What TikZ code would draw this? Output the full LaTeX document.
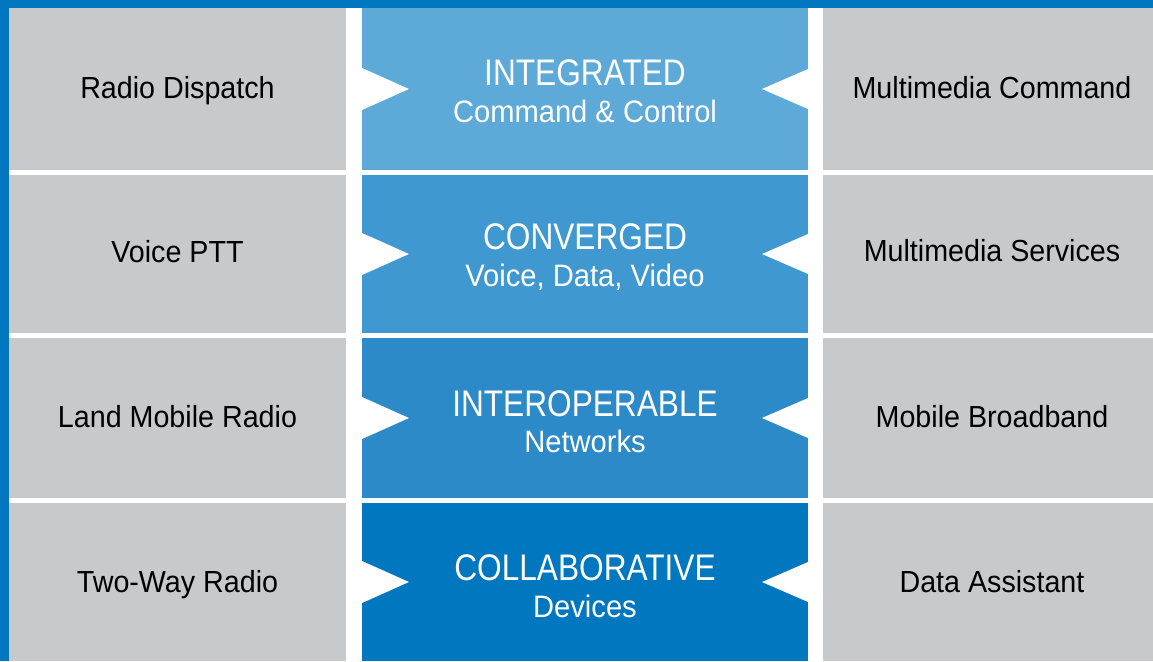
\documentclass[tikz,border=0pt]{standalone}
\usepackage{fontspec}
\setmainfont[FakeStretch=0.94]{Liberation Sans}
\newfontfamily\titlefont[FakeStretch=0.855]{Liberation Sans}
\definecolor{frameblue}{HTML}{0077BE}
\definecolor{cellgray}{HTML}{C8C9CB}
\definecolor{rowA}{HTML}{5DAAD9}
\definecolor{rowB}{HTML}{4098D0}
\definecolor{rowC}{HTML}{2C8AC8}
\definecolor{rowD}{HTML}{0077BE}
\begin{document}
\begin{tikzpicture}[x=1pt,y=-1pt,
  cell/.style={inner sep=0pt, outer sep=0pt, anchor=north west, minimum width=#1},
  sidecell/.style={cell=337pt, fill=cellgray},
  rightcell/.style={cell=330pt, fill=cellgray},
  midcell/.style={cell=446pt},
  sidelabel/.style={anchor=base, inner sep=0pt, text=black, font=\fontsize{30.5}{36}\selectfont},
  titlelabel/.style={anchor=base, inner sep=0pt, text=white, font=\titlefont\fontsize{37}{44}\selectfont},
  sublabel/.style={anchor=base, inner sep=0pt, text=white, font=\fontsize{31}{37}\selectfont},
  notch/.style={fill=white}
]
\useasboundingbox (0,0) rectangle (1153,661);
\fill[white] (0,0) rectangle (1153,661);
\fill[frameblue] (0,0) rectangle (1153,8);
\fill[frameblue] (0,0) rectangle (9,661);

% row 1
\node[sidecell, minimum height=162pt] (l1) at (9,8) {};
\node[midcell, fill=rowA, minimum height=162pt] (m1) at (362,8) {};
\node[rightcell, minimum height=162pt] (r1) at (823,8) {};
% row 2
\node[sidecell, minimum height=158pt] (l2) at (9,175) {};
\node[midcell, fill=rowB, minimum height=158pt] (m2) at (362,175) {};
\node[rightcell, minimum height=158pt] (r2) at (823,175) {};
% row 3
\node[sidecell, minimum height=160pt] (l3) at (9,338) {};
\node[midcell, fill=rowC, minimum height=160pt] (m3) at (362,338) {};
\node[rightcell, minimum height=160pt] (r3) at (823,338) {};
% row 4
\node[sidecell, minimum height=158pt] (l4) at (9,503) {};
\node[midcell, fill=rowD, minimum height=158pt] (m4) at (362,503) {};
\node[rightcell, minimum height=158pt] (r4) at (823,503) {};

\foreach \m in {m1,m2,m3,m4}{
  \fill[notch] ([yshift=21pt]\m.west) -- ([xshift=47pt]\m.west) -- ([yshift=-21pt]\m.west) -- cycle;
  \fill[notch] ([yshift=20pt]\m.east) -- ([xshift=-46pt]\m.east) -- ([yshift=-20pt]\m.east) -- cycle;
}

% labels
\node[sidelabel] (tl1) at ([yshift=-9pt]l1.center) {Radio Dispatch};
\node[sidelabel] (tl2) at ([yshift=-8pt]l2.center) {Voice PTT};
\node[sidelabel] (tl3) at ([yshift=-9pt]l3.center) {Land Mobile Radio};
\node[sidelabel] (tl4) at ([yshift=-10pt]l4.center) {Two-Way Radio};

\node[sidelabel] (tr1) at ([xshift=4pt,yshift=-9pt]r1.center) {Multimedia Command};
\node[sidelabel] (tr2) at ([xshift=4pt,yshift=-7pt]r2.center) {Multimedia Services};
\node[sidelabel] (tr3) at ([xshift=4pt,yshift=-9pt]r3.center) {Mobile Broadband};
\node[sidelabel] (tr4) at ([xshift=4pt,yshift=-10pt]r4.center) {Data Assistant};

\node[titlelabel] (h1) at ([yshift=4pt]m1.center) {INTEGRATED};
\node[sublabel] (s1) at ([yshift=-33pt]m1.center) {Command \& Control};
\node[titlelabel] (h2) at ([yshift=4.5pt]m2.center) {CONVERGED};
\node[sublabel] (s2) at ([yshift=-32pt]m2.center) {Voice, Data, Video};
\node[titlelabel] (h3) at ([yshift=2pt]m3.center) {INTEROPERABLE};
\node[sublabel] (s3) at ([yshift=-34.5pt]m3.center) {Networks};
\node[titlelabel] (h4) at ([yshift=1.5pt]m4.center) {COLLABORATIVE};
\node[sublabel] (s4) at ([yshift=-35pt]m4.center) {Devices};
\end{tikzpicture}
\end{document}
